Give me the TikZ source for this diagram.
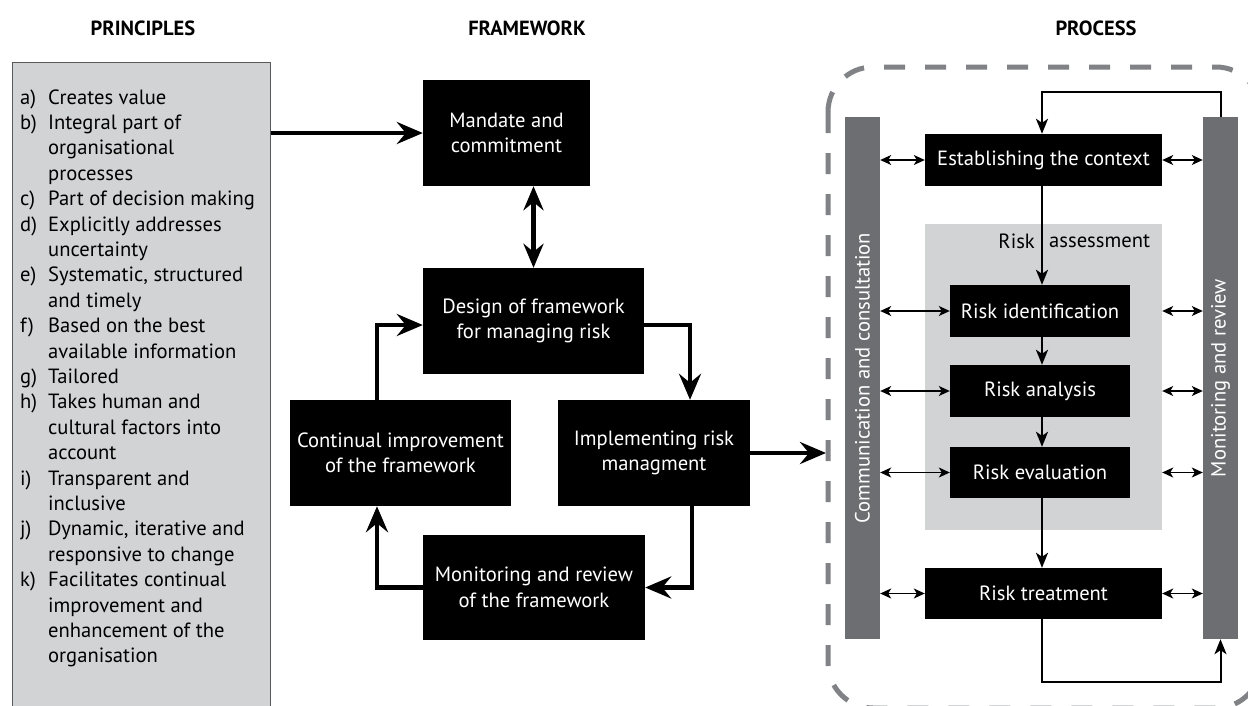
\documentclass[tikz,border=0pt]{standalone}
\usepackage{fontspec}
\setmainfont{PT Sans}
\usetikzlibrary{arrows.meta,calc}
\definecolor{barc}{HTML}{6D6E71}
\definecolor{lgray}{HTML}{D1D3D4}
\definecolor{dashc}{HTML}{808285}
\definecolor{pborder}{HTML}{58595B}
\newcommand\fsz{\fontsize{20.6}{25.4}\selectfont}
\newcommand\hsz{\fontsize{20.5}{24}\selectfont\bfseries}
\begin{document}
\begin{tikzpicture}[x=1pt,y=-1pt,
  blk/.style={fill=black,text=white,inner sep=0pt,font=\fsz,align=center},
  barbox/.style={fill=barc,inner sep=0pt,minimum width=35,minimum height=522},
  bartext/.style={rotate=90,text=white,font=\fsz,inner sep=0pt},
  hdr/.style={font=\hsz,inner sep=0pt},
  fwarrow/.style={line width=4.5pt,-{Stealth[length=26pt,width=22pt,inset=9pt]}},
  fwdouble/.style={line width=4.5pt,{Stealth[length=24pt,width=20pt,inset=8pt]}-{Stealth[length=24pt,width=20pt,inset=8pt]}},
  parrow/.style={line width=2pt,-{Stealth[length=15pt,width=12pt,inset=4pt]}},
  sdouble/.style={line width=1.2pt,{Stealth[length=11pt,width=10pt,inset=3pt]}-{Stealth[length=11pt,width=10pt,inset=3pt]}}
]
\clip (0,0) rectangle (1248,705);
\fill[white] (0,0) rectangle (1248,705);

% headers
\node[hdr] (h1) at (143,28) {PRINCIPLES};
\node[hdr] (h2) at (527,28) {FRAMEWORK};
\node[hdr] (h3) at (1096,28) {PROCESS};

% principles
\node[fill=lgray,draw=pborder,line width=1pt,anchor=north west,minimum width=258,minimum height=680,inner sep=0pt] (princ) at (12,62) {};
\node[anchor=base west,inner sep=0pt,font=\fsz] (plist) at (20,104) {%
\begin{tabular}[t]{@{}p{28pt}@{}l@{}}
a) & Creates value\\
b) & Integral part of\\
   & organisational\\
   & processes\\
c) & Part of decision making\\
d) & Explicitly addresses\\
   & uncertainty\\
e) & Systematic, structured\\
   & and timely\\
f) & Based on the best\\
   & available information\\
g) & Tailored\\
h) & Takes human and\\
   & cultural factors into\\
   & account\\
i) & Transparent and\\
   & inclusive\\
j) & Dynamic, iterative and\\
   & responsive to change\\
k) & Facilitates continual\\
   & improvement and\\
   & enhancement of the\\
   & organisation
\end{tabular}};

% framework
\node[blk,minimum width=167,minimum height=106] (mandate) at (506.5,133) {Mandate and\\commitment};
\node[blk,minimum width=221,minimum height=106] (design) at (533.5,321) {Design of framework\\for managing risk};
\node[blk,minimum width=221,minimum height=106] (cont) at (400.5,453) {Continual improvement\\of the framework};
\node[blk,minimum width=192,minimum height=106] (impl) at (654,453) {Implementing risk\\managment};
\node[blk,minimum width=222,minimum height=105] (monfw) at (534,587.5) {Monitoring and review\\of the framework};

\draw[fwarrow] (princ.east |- mandate.west) -- (mandate.west);
\draw[fwdouble] (design.north |- mandate.south) -- (design.north);
\draw[fwarrow] ($(cont.north)+(-23.5,0)$) |- ($(design.west)+(0,4)$);
\draw[fwarrow] ($(design.east)+(0,4)$) -| ($(impl.north)+(36,0)$);
\draw[fwarrow] ($(impl.south)+(38,0)$) |- (monfw.east);
\draw[fwarrow] (monfw.west) -| ($(cont.south)+(-23.5,0)$);
\coordinate (procin) at (826,0);
\draw[fwarrow] (impl.east) -- (impl.east -| procin);

% process
\draw[dashc,line width=5pt,dash pattern=on 21pt off 20pt,rounded corners=45pt] (828,67) rectangle (1261,708);
\node[barbox] (comm) at (862.5,378) {};
\node[bartext] (commt) at (comm.center) {Communication and consultation};
\node[barbox] (mon) at (1220.5,378) {};
\node[bartext] (mont) at (mon.center) {Monitoring and review};

\fill[lgray] (925,224) rectangle (1162,530);
\node[anchor=east,inner sep=0pt,font=\fsz] (ra1) at (1035,241) {Risk};
\node[anchor=west,inner sep=0pt,font=\fsz] (ra2) at (1049,241) {assessment};

\node[blk,minimum width=237,minimum height=52] (estab) at (1043.5,160) {Establishing the context};
\node[blk,minimum width=180,minimum height=52] (ident) at (1040,311) {Risk identification};
\node[blk,minimum width=180,minimum height=52] (anal) at (1040,391) {Risk analysis};
\node[blk,minimum width=180,minimum height=51] (evalu) at (1040,472.5) {Risk evaluation};
\node[blk,minimum width=237,minimum height=51] (treat) at (1043.5,593.5) {Risk treatment};

\coordinate (vx) at (1042,0);
\draw[parrow] (estab.south -| vx) -- (ident.north -| vx);
\draw[parrow] (ident.south -| vx) -- (anal.north -| vx);
\draw[parrow] (anal.south -| vx) -- (evalu.north -| vx);
\draw[parrow] (evalu.south -| vx) -- (treat.north -| vx);
\draw[parrow] (mon.north) |- ($(estab.north -| vx)+(0,-42)$) -- (estab.north -| vx);
\draw[parrow] (treat.south -| vx) |- ($(mon.south)+(0,43)$) -- (mon.south);

\foreach \n in {estab,ident,anal,evalu,treat}{
  \draw[sdouble] (comm.east |- \n.west) -- (\n.west);
}
\foreach \n in {estab,treat}{
  \draw[sdouble] (\n.east) -- (mon.west |- \n.east);
}
\foreach \n in {ident,anal,evalu}{
  \draw[sdouble] (estab.east |- \n.east) -- (mon.west |- \n.east);
}
\end{tikzpicture}
\end{document}
